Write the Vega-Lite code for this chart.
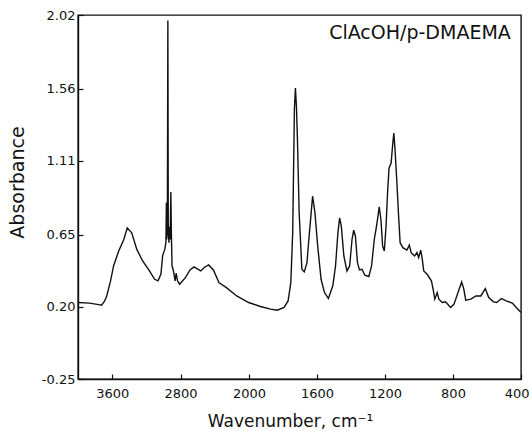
{
  "$schema": "https://vega.github.io/schema/vega-lite/v6.json",
  "width": 443,
  "height": 364,
  "autosize": "none",
  "padding": {"left": 78, "top": 15, "right": 10, "bottom": 52},
  "background": "white",
  "config": {
    "view": {"stroke": "#111", "strokeWidth": 1.4},
    "font": "DejaVu Sans",
    "axis": {
      "grid": false,
      "domainColor": "#111",
      "domainWidth": 1.4,
      "tickColor": "#111",
      "tickWidth": 1.2,
      "labelColor": "#111",
      "titleColor": "#111",
      "labelFont": "DejaVu Sans",
      "titleFont": "DejaVu Sans",
      "labelFontSize": 13,
      "titleFontWeight": "normal"
    }
  },
  "datasets": {
    "spectrum": [
      {"wavenumber": 4000, "absorbance": 0.227},
      {"wavenumber": 3864, "absorbance": 0.223},
      {"wavenumber": 3760, "absorbance": 0.214},
      {"wavenumber": 3724, "absorbance": 0.21},
      {"wavenumber": 3690, "absorbance": 0.235},
      {"wavenumber": 3664, "absorbance": 0.268},
      {"wavenumber": 3620, "absorbance": 0.36},
      {"wavenumber": 3584, "absorbance": 0.455},
      {"wavenumber": 3524, "absorbance": 0.548},
      {"wavenumber": 3464, "absorbance": 0.62},
      {"wavenumber": 3424, "absorbance": 0.693},
      {"wavenumber": 3372, "absorbance": 0.662},
      {"wavenumber": 3312, "absorbance": 0.558},
      {"wavenumber": 3244, "absorbance": 0.486},
      {"wavenumber": 3164, "absorbance": 0.424},
      {"wavenumber": 3104, "absorbance": 0.372},
      {"wavenumber": 3064, "absorbance": 0.362},
      {"wavenumber": 3030, "absorbance": 0.405},
      {"wavenumber": 3010, "absorbance": 0.52},
      {"wavenumber": 2985, "absorbance": 0.558},
      {"wavenumber": 2972, "absorbance": 0.6},
      {"wavenumber": 2966, "absorbance": 0.85},
      {"wavenumber": 2962, "absorbance": 0.62},
      {"wavenumber": 2955, "absorbance": 0.7},
      {"wavenumber": 2949, "absorbance": 1.985},
      {"wavenumber": 2944, "absorbance": 0.66},
      {"wavenumber": 2936, "absorbance": 0.6},
      {"wavenumber": 2928, "absorbance": 0.7},
      {"wavenumber": 2922, "absorbance": 0.62},
      {"wavenumber": 2914, "absorbance": 0.916},
      {"wavenumber": 2908, "absorbance": 0.66},
      {"wavenumber": 2900, "absorbance": 0.455},
      {"wavenumber": 2886, "absorbance": 0.43},
      {"wavenumber": 2864, "absorbance": 0.362},
      {"wavenumber": 2852, "absorbance": 0.41},
      {"wavenumber": 2836, "absorbance": 0.362},
      {"wavenumber": 2812, "absorbance": 0.341},
      {"wavenumber": 2744, "absorbance": 0.382},
      {"wavenumber": 2690, "absorbance": 0.43},
      {"wavenumber": 2644, "absorbance": 0.449},
      {"wavenumber": 2600, "absorbance": 0.435},
      {"wavenumber": 2564, "absorbance": 0.424},
      {"wavenumber": 2520, "absorbance": 0.447},
      {"wavenumber": 2472, "absorbance": 0.461},
      {"wavenumber": 2416, "absorbance": 0.43},
      {"wavenumber": 2352, "absorbance": 0.351},
      {"wavenumber": 2264, "absorbance": 0.32},
      {"wavenumber": 2144, "absorbance": 0.268},
      {"wavenumber": 2004, "absorbance": 0.227},
      {"wavenumber": 1933, "absorbance": 0.202},
      {"wavenumber": 1873, "absorbance": 0.186},
      {"wavenumber": 1834, "absorbance": 0.179},
      {"wavenumber": 1794, "absorbance": 0.196},
      {"wavenumber": 1770, "absorbance": 0.237},
      {"wavenumber": 1754, "absorbance": 0.351},
      {"wavenumber": 1743, "absorbance": 0.662},
      {"wavenumber": 1733, "absorbance": 1.429},
      {"wavenumber": 1727, "absorbance": 1.564},
      {"wavenumber": 1721, "absorbance": 1.45},
      {"wavenumber": 1715, "absorbance": 1.243},
      {"wavenumber": 1705, "absorbance": 0.787},
      {"wavenumber": 1689, "absorbance": 0.434},
      {"wavenumber": 1675, "absorbance": 0.418},
      {"wavenumber": 1659, "absorbance": 0.476},
      {"wavenumber": 1648, "absorbance": 0.62},
      {"wavenumber": 1636, "absorbance": 0.766},
      {"wavenumber": 1626, "absorbance": 0.89},
      {"wavenumber": 1612, "absorbance": 0.787},
      {"wavenumber": 1596, "absorbance": 0.579},
      {"wavenumber": 1576, "absorbance": 0.372},
      {"wavenumber": 1556, "absorbance": 0.289},
      {"wavenumber": 1533, "absorbance": 0.252},
      {"wavenumber": 1507, "absorbance": 0.331},
      {"wavenumber": 1491, "absorbance": 0.455},
      {"wavenumber": 1477, "absorbance": 0.662},
      {"wavenumber": 1467, "absorbance": 0.755},
      {"wavenumber": 1457, "absorbance": 0.703},
      {"wavenumber": 1442, "absorbance": 0.517},
      {"wavenumber": 1424, "absorbance": 0.424},
      {"wavenumber": 1408, "absorbance": 0.455},
      {"wavenumber": 1394, "absorbance": 0.62},
      {"wavenumber": 1384, "absorbance": 0.678},
      {"wavenumber": 1374, "absorbance": 0.641},
      {"wavenumber": 1362, "absorbance": 0.476},
      {"wavenumber": 1350, "absorbance": 0.43},
      {"wavenumber": 1335, "absorbance": 0.434},
      {"wavenumber": 1319, "absorbance": 0.397},
      {"wavenumber": 1295, "absorbance": 0.389},
      {"wavenumber": 1279, "absorbance": 0.455},
      {"wavenumber": 1263, "absorbance": 0.62},
      {"wavenumber": 1253, "absorbance": 0.683},
      {"wavenumber": 1244, "absorbance": 0.745},
      {"wavenumber": 1234, "absorbance": 0.824},
      {"wavenumber": 1224, "absorbance": 0.745},
      {"wavenumber": 1214, "absorbance": 0.579},
      {"wavenumber": 1204, "absorbance": 0.548},
      {"wavenumber": 1194, "absorbance": 0.703},
      {"wavenumber": 1184, "absorbance": 0.932},
      {"wavenumber": 1176, "absorbance": 1.066},
      {"wavenumber": 1164, "absorbance": 1.097},
      {"wavenumber": 1154, "absorbance": 1.222},
      {"wavenumber": 1148, "absorbance": 1.284},
      {"wavenumber": 1141, "absorbance": 1.18},
      {"wavenumber": 1131, "absorbance": 0.994},
      {"wavenumber": 1121, "absorbance": 0.787},
      {"wavenumber": 1111, "absorbance": 0.6},
      {"wavenumber": 1095, "absorbance": 0.569},
      {"wavenumber": 1071, "absorbance": 0.554},
      {"wavenumber": 1057, "absorbance": 0.585},
      {"wavenumber": 1046, "absorbance": 0.538},
      {"wavenumber": 1026, "absorbance": 0.517},
      {"wavenumber": 1012, "absorbance": 0.538},
      {"wavenumber": 1002, "absorbance": 0.507},
      {"wavenumber": 990, "absorbance": 0.554},
      {"wavenumber": 982, "absorbance": 0.507},
      {"wavenumber": 972, "absorbance": 0.424},
      {"wavenumber": 952, "absorbance": 0.403},
      {"wavenumber": 927, "absorbance": 0.362},
      {"wavenumber": 917, "absorbance": 0.31},
      {"wavenumber": 907, "absorbance": 0.248},
      {"wavenumber": 893, "absorbance": 0.289},
      {"wavenumber": 883, "absorbance": 0.248},
      {"wavenumber": 863, "absorbance": 0.227},
      {"wavenumber": 844, "absorbance": 0.231},
      {"wavenumber": 814, "absorbance": 0.196},
      {"wavenumber": 794, "absorbance": 0.217},
      {"wavenumber": 764, "absorbance": 0.31},
      {"wavenumber": 749, "absorbance": 0.355},
      {"wavenumber": 737, "absorbance": 0.314},
      {"wavenumber": 725, "absorbance": 0.242},
      {"wavenumber": 695, "absorbance": 0.248},
      {"wavenumber": 665, "absorbance": 0.268},
      {"wavenumber": 636, "absorbance": 0.268},
      {"wavenumber": 610, "absorbance": 0.314},
      {"wavenumber": 590, "absorbance": 0.258},
      {"wavenumber": 562, "absorbance": 0.231},
      {"wavenumber": 543, "absorbance": 0.227},
      {"wavenumber": 515, "absorbance": 0.252},
      {"wavenumber": 487, "absorbance": 0.237},
      {"wavenumber": 451, "absorbance": 0.223},
      {"wavenumber": 428, "absorbance": 0.196},
      {"wavenumber": 400, "absorbance": 0.165}
    ],
    "label": [
      {"name": "ClAcOH/p-DMAEMA"}
    ]
  },
  "layer": [
    {
      "data": {"name": "spectrum"},
      "mark": {"type": "line", "color": "#111", "strokeWidth": 1.4, "clip": true},
      "encoding": {
        "x": {
          "field": "wavenumber",
          "type": "quantitative",
          "scale": {"domain": [4000, 2000, 400], "range": [0, 171, 443], "zero": false, "nice": false},
          "axis": {
            "values": [3600, 2800, 2000, 1600, 1200, 800, 400],
            "format": "d",
            "tickSize": -5,
            "labelPadding": 13,
            "labelFlush": true,
            "labelFlushOffset": 8,
            "title": "Wavenumber, cm⁻¹",
            "titleFontSize": 17,
            "titleX": 212,
            "titleY": 42,
            "titleBaseline": "middle",
            "titleAlign": "center"
          }
        },
        "y": {
          "field": "absorbance",
          "type": "quantitative",
          "scale": {"domain": [-0.25, 2.02], "zero": false, "nice": false},
          "axis": {
            "values": [-0.25, 0.2, 0.65, 1.11, 1.56, 2.02],
            "format": ".2f",
            "labelExpr": "replace(datum.label, '−', '-')",
            "tickSize": -5,
            "labelPadding": 8,
            "labelFlush": false,
            "title": "Absorbance",
            "titleFontSize": 19,
            "titleAngle": -90,
            "titleX": -61,
            "titleY": 167,
            "titleBaseline": "middle",
            "titleAlign": "center"
          }
        }
      }
    },
    {
      "data": {"name": "label"},
      "mark": {"type": "text", "align": "right", "baseline": "middle", "fontSize": 19, "color": "#111", "font": "DejaVu Sans"},
      "encoding": {
        "x": {"datum": 460, "type": "quantitative"},
        "y": {"datum": 1.91, "type": "quantitative"},
        "text": {"field": "name", "type": "nominal"}
      }
    }
  ]
}
